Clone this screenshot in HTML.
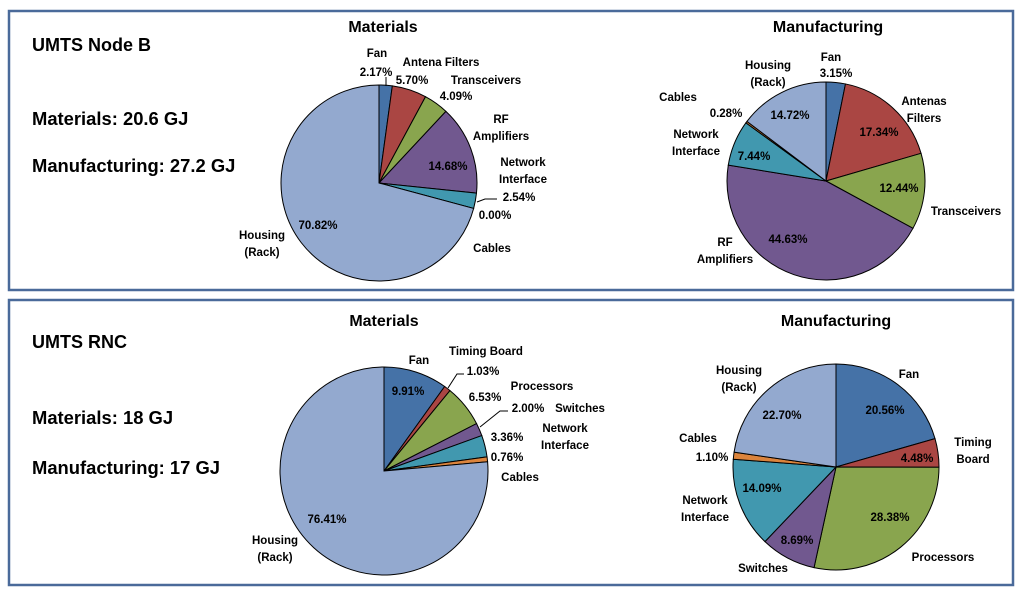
<!DOCTYPE html>
<html><head><meta charset="utf-8"><style>
html,body{margin:0;padding:0;background:#fff;}
svg{display:block;font-family:"Liberation Sans",sans-serif;font-weight:bold;}
</style></head><body>
<svg id="chart" width="1024" height="594" viewBox="0 0 1024 594">
<rect x="9" y="11" width="1004" height="279" fill="none" stroke="#4a6a9a" stroke-width="2.5"/>
<rect x="9" y="300" width="1004" height="285" fill="none" stroke="#4a6a9a" stroke-width="2.5"/>
<text x="32" y="51" font-size="18">UMTS Node B</text>
<text x="32" y="125" font-size="18.4">Materials: 20.6 GJ</text>
<text x="32" y="172" font-size="18.4">Manufacturing: 27.2 GJ</text>
<text x="32" y="348" font-size="18">UMTS RNC</text>
<text x="32" y="424" font-size="18.4">Materials: 18 GJ</text>
<text x="32" y="474" font-size="18.4">Manufacturing: 17 GJ</text>
<text x="383" y="32" font-size="16" text-anchor="middle">Materials</text>
<text x="828" y="32" font-size="16" text-anchor="middle">Manufacturing</text>
<text x="384" y="326" font-size="16" text-anchor="middle">Materials</text>
<text x="836" y="326" font-size="16" text-anchor="middle">Manufacturing</text>
<g id="pies"></g>
<g stroke="#000" stroke-width="1" fill="none">
<polyline points="386,77 386,86"/>
<polyline points="477,202 485,199 497,199"/>
<polyline points="448,388 457,374 464,374"/>
<polyline points="480,427 500,411 508,411"/>
</g>
</svg>
<script>
const nodeBMatCats = ["Fan","Antena Filters","Transceivers","RF Amplifiers","Network Interface","Cables","Housing (Rack)"];
const nodeBMatVals = [2.17,5.70,4.09,14.68,2.54,0.00,70.82];
const nodeBManCats = ["Fan","Antenas Filters","Transceivers","RF Amplifiers","Network Interface","Cables","Housing (Rack)"];
const nodeBManVals = [3.15,17.34,12.44,44.63,7.44,0.28,14.72];
const rncMatCats = ["Fan","Timing Board","Processors","Switches","Network Interface","Cables","Housing (Rack)"];
const rncMatVals = [9.91,1.03,6.53,2.00,3.36,0.76,76.41];
const rncManCats = ["Fan","Timing Board","Processors","Switches","Network Interface","Cables","Housing (Rack)"];
const rncManVals = [20.56,4.48,28.38,8.69,14.09,1.10,22.70];

const colors = ["#4572a7","#aa4643","#89a54e","#71588f","#4198af","#db843d","#93a9cf"];
const NS = "http://www.w3.org/2000/svg";
const root = document.getElementById("pies");

function txt(g, x, y, s, name) {
  const t = document.createElementNS(NS, "text");
  t.setAttribute("x", x); t.setAttribute("y", y);
  t.setAttribute("font-size", "11.5");
  t.setAttribute("text-anchor", "middle");
  t.textContent = s;
  
  
  g.appendChild(t);
}

function drawPie(id, cx, cy, r, cats, vals, catPos, pctPos) {
  const g = document.createElementNS(NS, "g");
  
  
  root.appendChild(g);
  const total = vals.reduce((a, b) => a + b, 0);
  let a0 = -Math.PI / 2;
  vals.forEach((v, i) => {
    const a1 = a0 + v / total * 2 * Math.PI;
    const x0 = cx + r * Math.cos(a0), y0 = cy + r * Math.sin(a0);
    const x1 = cx + r * Math.cos(a1), y1 = cy + r * Math.sin(a1);
    const large = (a1 - a0) > Math.PI ? 1 : 0;
    const p = document.createElementNS(NS, "path");
    p.setAttribute("d", `M${cx},${cy} L${x0},${y0} A${r},${r} 0 ${large} 1 ${x1},${y1} Z`);
    p.setAttribute("fill", colors[i]);
    p.setAttribute("stroke", "#000");
    p.setAttribute("stroke-width", "1");
    
    
    g.appendChild(p);
    a0 = a1;
  });
  cats.forEach((c, i) => {
    const lines = catPos[i][2] ? c.split(/ (?=\S+$)/) : [c];
    let y = catPos[i][1];
    lines.forEach(l => { txt(g, catPos[i][0], y, l, 'label-' + l.toLowerCase().replace(/[^a-z]+/g, '-')); y += 17; });
    txt(g, pctPos[i][0], pctPos[i][1], vals[i].toFixed(2) + "%", 'value-label');
  });
}

drawPie("node-b-materials-pie", 379, 183, 98, nodeBMatCats, nodeBMatVals,
  [[377,57,0],[441,66,0],[486,84,0],[501,123,1],[523,166,1],[492,252,0],[262,239,1]],
  [[376,76],[412,84],[456,100],[448,170],[519,201],[495,219],[318,229]]);
drawPie("node-b-manufacturing-pie", 826, 181, 99, nodeBManCats, nodeBManVals,
  [[831,61,0],[924,105,1],[966,215,0],[725,246,1],[696,138,1],[678,101,0],[768,69,1]],
  [[836,77],[879,136],[899,192],[788,243],[754,160],[726,117],[790,119]]);
drawPie("rnc-materials-pie", 384, 471, 104, rncMatCats, rncMatVals,
  [[419,364,0],[486,355,0],[542,390,0],[580,412,0],[565,432,1],[520,481,0],[275,544,1]],
  [[408,395],[483,375],[485,401],[528,412],[507,441],[507,461],[327,523]]);
drawPie("rnc-manufacturing-pie", 836, 467, 103, rncManCats, rncManVals,
  [[909,378,0],[973,446,1],[943,561,0],[763,572,0],[705,504,1],[698,442,0],[739,374,1]],
  [[885,414],[917,462],[890,521],[797,544],[762,492],[712,461],[782,419]]);
</script>
</body></html>
